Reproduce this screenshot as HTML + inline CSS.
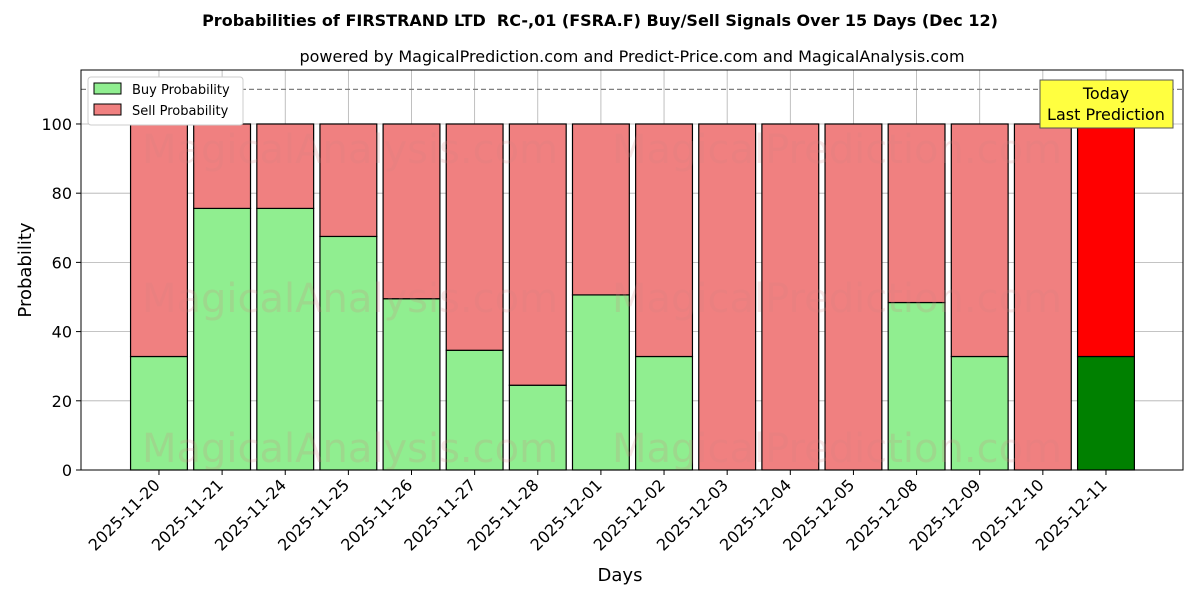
<!DOCTYPE html>
<html><head><meta charset="utf-8"><style>
body{margin:0;background:#fff;font-family:"Liberation Sans","DejaVu Sans",sans-serif;}
text{font-family:"DejaVu Sans","Liberation Sans",sans-serif;}
</style></head><body>
<svg id="chart" width="1200" height="600" xmlns="http://www.w3.org/2000/svg">
<rect width="1200" height="600" fill="#fff"/>
<text x="600" y="26" text-anchor="middle" font-size="16" font-weight="bold">Probabilities of FIRSTRAND LTD&#160; RC-,01 (FSRA.F) Buy/Sell Signals Over 15 Days (Dec 12)</text>
<text x="632" y="62" text-anchor="middle" font-size="16">powered by MagicalPrediction.com and Predict-Price.com and MagicalAnalysis.com</text>
<g id="grid"></g>
<g id="bars"></g>
<g id="wm" fill="#d08080" fill-opacity="0.2" font-size="40">
<text x="350" y="163" text-anchor="middle">MagicalAnalysis.com</text>
<text x="837" y="163" text-anchor="middle">MagicalPrediction.com</text>
<text x="350" y="312" text-anchor="middle">MagicalAnalysis.com</text>
<text x="837" y="312" text-anchor="middle">MagicalPrediction.com</text>
<text x="350" y="462" text-anchor="middle">MagicalAnalysis.com</text>
<text x="837" y="462" text-anchor="middle">MagicalPrediction.com</text>
</g>
<line x1="81" x2="1183" y1="89.4" y2="89.4" stroke="#808080" stroke-width="1.2" stroke-dasharray="5,3"/>
<rect x="81" y="70" width="1102" height="400" fill="none" stroke="#000" stroke-width="1"/>
<g id="axes"></g>
<g>
<rect x="1040" y="80" width="133" height="48" fill="#ffff40" stroke="#555" stroke-width="1"/>
<text x="1106" y="99" text-anchor="middle" font-size="16">Today</text>
<text x="1106" y="120" text-anchor="middle" font-size="16">Last Prediction</text>
</g>
<g>
<rect x="88" y="77" width="155" height="48" fill="#fff" stroke="#ccc" rx="3"/>
<rect x="94" y="83" width="27" height="11" fill="#90ee90" stroke="#000"/>
<text x="132" y="94" font-size="13">Buy Probability</text>
<rect x="94" y="104" width="27" height="11" fill="#f08080" stroke="#000"/>
<text x="132" y="115" font-size="13">Sell Probability</text>
</g>
<text x="620" y="581" text-anchor="middle" font-size="18">Days</text>
<text transform="translate(31,270) rotate(-90)" text-anchor="middle" font-size="18">Probability</text>
</svg>
<script>
const dates=["2025-11-20","2025-11-21","2025-11-24","2025-11-25","2025-11-26","2025-11-27","2025-11-28","2025-12-01","2025-12-02","2025-12-03","2025-12-04","2025-12-05","2025-12-08","2025-12-09","2025-12-10","2025-12-11"];
const buyValues=[32.8,75.6,75.6,67.5,49.5,34.6,24.5,50.6,32.8,0,0,0,48.4,32.8,0,32.8];
const yTicks=[0,20,40,60,80,100];
const NS="http://www.w3.org/2000/svg";
const X0=81,X1=1183,Y0=470,Y1=70,xmin=-1.235,xmax=16.22,ymin=0,ymax=115.6;
const xs=i=>X0+(i-xmin)/(xmax-xmin)*(X1-X0);
const ys=v=>Y0-(v-ymin)/(ymax-ymin)*(Y0-Y1);
function mk(t,a,p){const e=document.createElementNS(NS,t);for(const k in a)e.setAttribute(k,a[k]);p.appendChild(e);return e;}
const grid=document.getElementById('grid'),bars=document.getElementById('bars'),axes=document.getElementById('axes');
yTicks.forEach(t=>{
 const y=ys(t);
 const g=mk('line',{x1:X0,x2:X1,y1:y,y2:y,stroke:'#b0b0b0','stroke-width':0.8},grid);
 
 
 mk('line',{x1:X0-5,x2:X0,y1:y,y2:y,stroke:'#000'},axes);
 const l=mk('text',{x:X0-9,y:y+6,'text-anchor':'end','font-size':16},axes);
 l.textContent=t;
 
 
});
dates.forEach((d,i)=>{
 const cx=xs(i);
 const g=mk('line',{x1:cx,x2:cx,y1:Y1,y2:Y0,stroke:'#b0b0b0','stroke-width':0.8},grid);
 
 
 const w=(xs(0.45)-xs(-0.45)), last=i===dates.length-1;
 const b=mk('rect',{x:cx-w/2,y:ys(buyValues[i]),width:w,height:ys(0)-ys(buyValues[i]),fill:last?'#008000':'#90ee90',stroke:'#000','stroke-width':1.2},bars);
 
 
 const s=mk('rect',{x:cx-w/2,y:ys(100),width:w,height:ys(buyValues[i])-ys(100),fill:last?'#ff0000':'#f08080',stroke:'#000','stroke-width':1.2},bars);
 
 
 mk('line',{x1:cx,x2:cx,y1:Y0,y2:Y0+5,stroke:'#000'},axes);
 const l=mk('text',{x:0,y:0,'text-anchor':'end','font-size':16,transform:`translate(${cx+2},${Y0+16}) rotate(-45)`},axes);
 l.textContent=d;
 
 
});
</script>
</body></html>
